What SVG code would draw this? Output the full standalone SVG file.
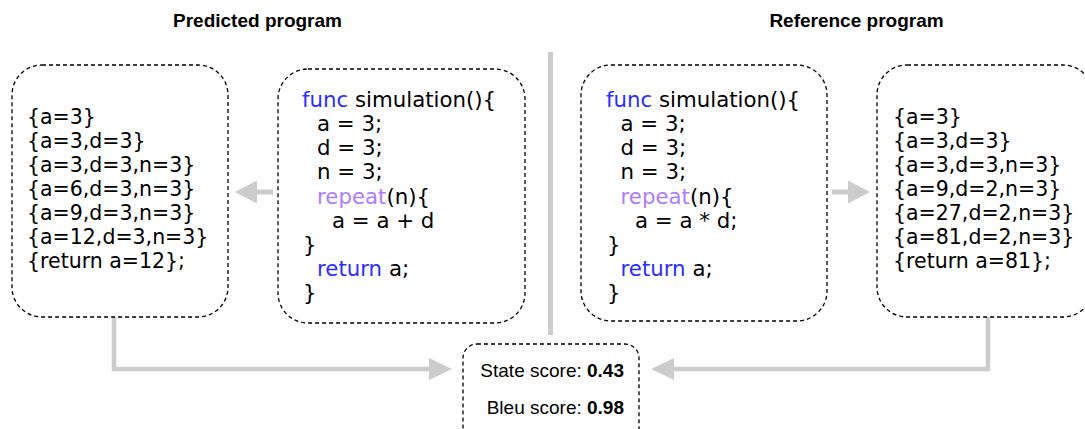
<svg xmlns="http://www.w3.org/2000/svg" width="1085" height="429" viewBox="0 0 1085 429">
<defs>
<style>
.box{fill:#fff;stroke:#000;stroke-width:1.3;stroke-dasharray:4 3}
.title{font-family:"Liberation Sans",Arial,sans-serif;font-weight:bold;font-size:19px;fill:#000;text-anchor:middle}
.state{font-family:"DejaVu Sans",Verdana,sans-serif;font-size:20.5px;fill:#000}
.code{font-family:"DejaVu Sans",Verdana,sans-serif;font-size:21.3px;fill:#000}
.kw{fill:#2d2dff}
.rep{fill:#b07cf7}
.score{font-family:"Liberation Sans",Arial,sans-serif;font-size:19px;fill:#000;text-anchor:end}
.conn{fill:none;stroke:#cccccc;stroke-width:4.5}
.head{fill:#cccccc}
</style>
</defs>
<rect width="1085" height="429" fill="#fff"/>
<text class="title" x="257.5" y="26.5">Predicted program</text>
<text class="title" x="856.5" y="26.5">Reference program</text>
<g id="connectors">
<line class="conn" x1="550.5" y1="52" x2="550.5" y2="335" style="stroke-width:5"/>
<line class="conn" x1="273" y1="192" x2="255" y2="192" style="stroke-width:5"/>
<polygon class="head" points="235,192 257,180.5 257,203.5"/>
<line class="conn" x1="832" y1="192" x2="850" y2="192" style="stroke-width:5"/>
<polygon class="head" points="870,192 848,180.5 848,203.5"/>
<polyline class="conn" points="114,317 114,369 432,369"/>
<polygon class="head" points="452,369 429,358 429,380"/>
<polyline class="conn" points="988,317 988,369 671,369"/>
<polygon class="head" points="651,369 674,358 674,380"/>
</g>
<g id="pred-states">
<rect class="box" x="12" y="65" width="216" height="252" rx="30"/>
<text class="state" x="27" y="124">{a=3}</text>
<text class="state" x="27" y="148">{a=3,d=3}</text>
<text class="state" x="27" y="172">{a=3,d=3,n=3}</text>
<text class="state" x="27" y="196">{a=6,d=3,n=3}</text>
<text class="state" x="27" y="220">{a=9,d=3,n=3}</text>
<text class="state" x="27" y="244">{a=12,d=3,n=3}</text>
<text class="state" x="27" y="268">{return a=12};</text>
</g>
<g id="pred-code">
<rect class="box" x="278" y="69" width="247" height="254" rx="30"/>
<text class="code" x="302" y="106.5"><tspan class="kw">func</tspan> simulation(){</text>
<text class="code" x="317" y="130.5">a = 3;</text>
<text class="code" x="317" y="155">d = 3;</text>
<text class="code" x="317" y="179">n = 3;</text>
<text class="code" x="317" y="203.5"><tspan class="rep">repeat</tspan>(n){</text>
<text class="code" x="332" y="227.5">a = a + d</text>
<text class="code" x="303" y="252">}</text>
<text class="code" x="317" y="276"><tspan class="kw">return</tspan> a;</text>
<text class="code" x="303" y="300">}</text>
</g>
<g id="ref-code">
<rect class="box" x="581" y="65" width="246" height="256" rx="30"/>
<text class="code" x="606" y="106.5"><tspan class="kw">func</tspan> simulation(){</text>
<text class="code" x="620.5" y="130.5">a = 3;</text>
<text class="code" x="620.5" y="155">d = 3;</text>
<text class="code" x="620.5" y="179">n = 3;</text>
<text class="code" x="620.5" y="203.5"><tspan class="rep">repeat</tspan>(n){</text>
<text class="code" x="635" y="227.5">a = a * d;</text>
<text class="code" x="607" y="252">}</text>
<text class="code" x="620.5" y="276"><tspan class="kw">return</tspan> a;</text>
<text class="code" x="607" y="300">}</text>
</g>
<g id="ref-states">
<rect class="box" x="877" y="65" width="216" height="252" rx="30"/>
<text class="state" x="893" y="124">{a=3}</text>
<text class="state" x="893" y="148">{a=3,d=3}</text>
<text class="state" x="893" y="172">{a=3,d=3,n=3}</text>
<text class="state" x="893" y="196">{a=9,d=2,n=3}</text>
<text class="state" x="893" y="220">{a=27,d=2,n=3}</text>
<text class="state" x="893" y="244">{a=81,d=2,n=3}</text>
<text class="state" x="893" y="268">{return a=81};</text>
</g>
<g id="scores">
<rect class="box" x="463" y="344" width="176" height="110" rx="14"/>
<text class="score" x="624" y="377">State score: <tspan font-weight="bold">0.43</tspan></text>
<text class="score" x="624" y="414">Bleu score: <tspan font-weight="bold">0.98</tspan></text>
</g>
</svg>
